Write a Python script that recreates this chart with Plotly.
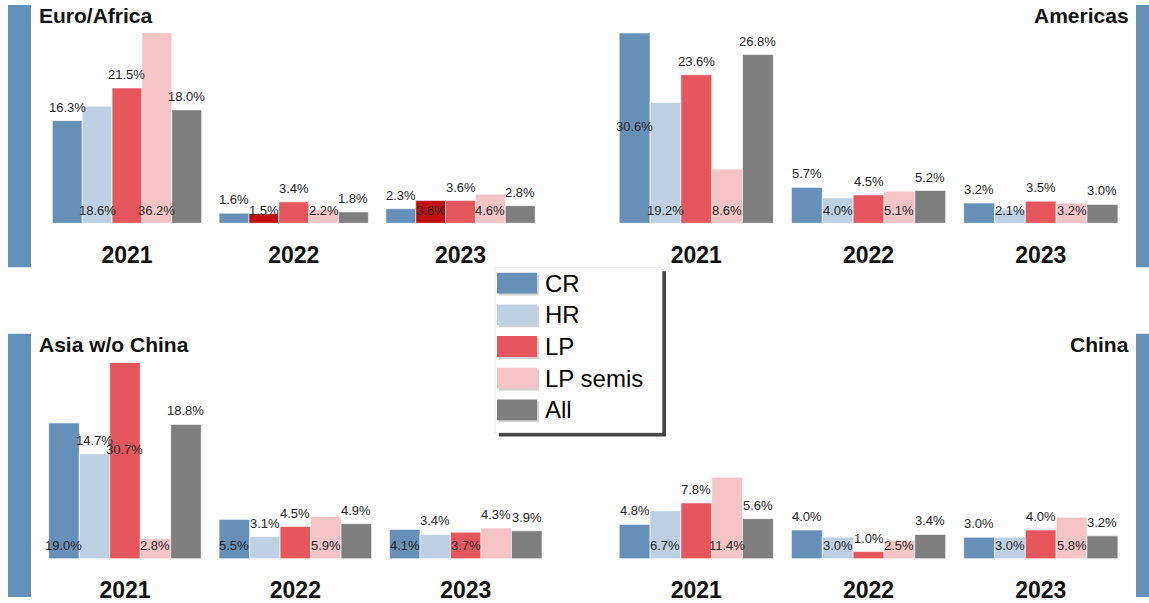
import plotly.graph_objects as go

# ---------------- data ----------------
years = ["2021", "2022", "2023"]
series = ["CR", "HR", "LP", "LP semis", "All"]

euro_cr = [16.3, 1.6, 2.3]
euro_hr = [18.6, 1.5, 3.6]
euro_lp = [21.5, 3.4, 3.6]
euro_lps = [36.2, 2.2, 4.6]
euro_all = [18.0, 1.8, 2.8]

amer_cr = [30.6, 5.7, 3.2]
amer_hr = [19.2, 4.0, 2.1]
amer_lp = [23.6, 4.5, 3.5]
amer_lps = [8.6, 5.1, 3.2]
amer_all = [26.8, 5.2, 3.0]

asia_cr = [19.0, 5.5, 4.1]
asia_hr = [14.7, 3.1, 3.4]
asia_lp = [30.7, 4.5, 3.7]
asia_lps = [2.8, 5.9, 4.3]
asia_all = [18.8, 4.9, 3.9]

china_cr = [4.8, 4.0, 3.0]
china_hr = [6.7, 3.0, 3.0]
china_lp = [7.8, 1.0, 4.0]
china_lps = [11.4, 2.5, 5.8]
china_all = [5.6, 3.4, 3.2]

panel_titles = ["Euro/Africa", "Americas", "Asia w/o China", "China"]

# ---------------- styles ----------------
W, H = 1149, 603
colors = ["#6790b8", "#bfd0e2", "#e5575c", "#f5c4c6", "#7f7f7f"]
dark_red = "#c00d0e"
side_blue = "#6790b8"
BARGAP = 0.105

# label placement: o = above bar, i = inside at base, m = middle of bar
pos_euro = [["o", "o", "o"], ["i", "i", "i"], ["o", "o", "o"], ["i", "i", "i"], ["o", "o", "o"]]
pos_amer = [["m", "o", "o"], ["i", "i", "i"], ["o", "o", "o"], ["i", "i", "i"], ["o", "o", "o"]]
pos_asia = [["i", "i", "i"], ["o", "o", "o"], ["m", "o", "i"], ["i", "i", "o"], ["o", "o", "o"]]
pos_china = [["o", "o", "o"], ["i", "i", "i"], ["o", "o", "o"], ["i", "i", "i"], ["o", "o", "o"]]

panels = [
    dict(vals=[euro_cr, euro_hr, euro_lp, euro_lps, euro_all], pos=pos_euro,
         xd=(43.6, 543.9), yd=(225.5, 33.5), yr=30.2, title_x=37, title_y=16, anchor="left"),
    dict(vals=[amer_cr, amer_hr, amer_lp, amer_lps, amer_all], pos=pos_amer,
         xd=(610.2, 1126.9), yd=(225.5, 33.5), yr=30.2, title_x=1131, title_y=16, anchor="right"),
    dict(vals=[asia_cr, asia_hr, asia_lp, asia_lps, asia_all], pos=pos_asia,
         xd=(39.8, 550.9), yd=(564.3, 366.7), yr=27.4, title_x=37, title_y=348, anchor="left"),
    dict(vals=[china_cr, china_hr, china_lp, china_lps, china_all], pos=pos_china,
         xd=(610.2, 1126.9), yd=(564.3, 366.7), yr=27.4, title_x=1131, title_y=348, anchor="right"),
]

def fx(p):
    return p / W

def fy(p):
    return 1 - p / H

fig = go.Figure()
annotations = []
shapes = []
LABEL_FONT = dict(family="Liberation Sans, Arial, sans-serif", size=13, color="#262626")
TITLE_FONT = dict(family="Liberation Sans, Arial, sans-serif", size=21, color="#111")

for pi, pnl in enumerate(panels):
    n = "" if pi == 0 else str(pi + 1)
    xa, ya = "x" + n, "y" + n
    for si, name in enumerate(series):
        vals = pnl["vals"][si]
        col = [colors[si]] * len(years)
        if pi == 0 and si == 1:
            col = [colors[1], dark_red, dark_red]
        fig.add_trace(go.Bar(
            x=years, y=vals, name=name, xaxis=xa, yaxis=ya,
            marker=dict(color=col, line=dict(color="rgba(255,255,255,0.7)", width=0.8)),
            showlegend=False, hoverinfo="skip",
        ))
        step = (1 - BARGAP) / len(series)
        off = -(1 - BARGAP) / 2 + (si + 0.5) * step
        for gi, v in enumerate(vals):
            p = pnl["pos"][si][gi]
            if p == "o":
                yy, ysh = v, 13.5
            elif p == "i":
                yy, ysh = 0, 13
            else:
                yy, ysh = v / 2, 0
            annotations.append(dict(
                x=gi + off, y=yy, xref=xa, yref=ya, yshift=ysh,
                text=f"{v:.1f}%", showarrow=False, font=LABEL_FONT,
                xanchor="center", yanchor="middle",
            ))
    axx = dict(domain=[fx(pnl["xd"][0]), fx(pnl["xd"][1])], anchor=ya, type="category",
               range=[-0.5, 2.5], showgrid=False, zeroline=False, showline=False,
               ticks="outside", ticklen=11, tickcolor="rgba(0,0,0,0)",
               tickfont=dict(family="Liberation Sans, Arial, sans-serif", size=23,
                             color="#111", weight="bold"))
    axy = dict(domain=[fy(pnl["yd"][0]), fy(pnl["yd"][1])], anchor=xa,
               range=[0, pnl["yr"]], visible=False, showgrid=False, zeroline=False)
    fig.update_layout(**{"xaxis" + n: axx, "yaxis" + n: axy})
    annotations.append(dict(
        x=fx(pnl["title_x"]), y=fy(pnl["title_y"]), xref="paper", yref="paper",
        text=f"<b>{panel_titles[pi]}</b>", showarrow=False,
        xanchor=pnl["anchor"], yanchor="middle", font=TITLE_FONT,
    ))

# side accent bars
for (x0, x1, y0, y1) in [(8, 31, 5, 270), (1136, 1149, 5, 270), (8, 31, 337, 603), (1136, 1149, 337, 603)]:
    shapes.append(dict(type="rect", xref="paper", yref="paper",
                       x0=fx(x0), x1=fx(x1), y0=fy(y1), y1=fy(y0),
                       fillcolor=side_blue, line=dict(width=0), layer="below"))

# legend box (drawn manually to match the large swatches)
shapes.append(dict(type="rect", xref="paper", yref="paper", x0=fx(499), x1=fx(666),
                   y0=fy(441), y1=fy(274), fillcolor="rgba(20,20,20,0.8)", line=dict(width=0)))
shapes.append(dict(type="rect", xref="paper", yref="paper", x0=fx(495), x1=fx(662),
                   y0=fy(437), y1=fy(270), fillcolor="white", line=dict(color="#e6e6e6", width=0.8)))
row_centers = [286, 318, 350, 382, 414]
for si, name in enumerate(series):
    cy = row_centers[si]
    shapes.append(dict(type="rect", xref="paper", yref="paper", x0=fx(499), x1=fx(539),
                       y0=fy(cy + 12.5), y1=fy(cy - 8.5), fillcolor="rgba(0,0,0,0.18)",
                       line=dict(width=0)))
    shapes.append(dict(type="rect", xref="paper", yref="paper", x0=fx(497), x1=fx(537),
                       y0=fy(cy + 10.5), y1=fy(cy - 10.5), fillcolor=colors[si],
                       line=dict(width=0)))
    annotations.append(dict(x=fx(543), y=fy(cy), xref="paper", yref="paper", text=name,
                            showarrow=False, xanchor="left", yanchor="middle",
                            font=dict(family="Liberation Sans, Arial, sans-serif", size=24,
                                      color="#000")))

fig.update_layout(
    width=W, height=H, margin=dict(l=0, r=0, t=0, b=0),
    paper_bgcolor="white", plot_bgcolor="rgba(0,0,0,0)",
    barmode="group", bargap=BARGAP, bargroupgap=0,
    annotations=annotations, shapes=shapes, showlegend=False,
)

fig.write_html(
    "out.html",
    config={"displayModeBar": False},
    post_script="document.body.style.margin='0';document.body.style.overflow='hidden';",
)
